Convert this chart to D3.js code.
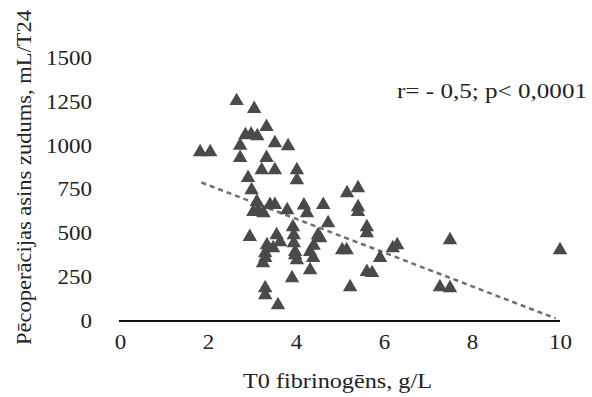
<!DOCTYPE html>
<html>
<head>
<meta charset="utf-8">
<script src="https://cdn.jsdelivr.net/npm/d3@7"></script>
<style>
  body { margin: 0; background: #fff; }
  text { font-family: "Liberation Serif", "Times New Roman", Times, serif; fill: #222; }
</style>
</head>
<body>
<script>
const WIDTH = 592;
const HEIGHT = 397;

// fibrinogen (g/L) and blood loss (mL/T24)
var fibX = [1.82, 2.05, 2.65, 3.05, 3.33, 2.85, 2.98, 3.12, 2.73, 3.52, 3.82, 2.73, 3.33, 3.22, 3.52,
    4.02, 4.02, 2.91, 2.99, 3.11, 3.14, 3.41, 3.52, 3.8, 3.26, 3.03, 4.18, 4.25, 4.62, 3.93,
    3.95, 3.95, 3.98, 4.02, 2.95, 3.56, 3.64, 3.34, 3.3, 3.25, 3.48, 4.32, 4.39, 4.55, 4.4,
    4.32, 4.73, 3.91, 3.3, 3.3, 3.59, 5.05, 5.15, 5.41, 5.16, 5.41, 5.41, 5.61, 5.61, 6.3,
    6.2, 5.91, 5.61, 5.73, 5.23, 7.5, 7.27, 7.5, 10.0, 3.3, 3.98, 4.5];
var bloodLoss = [964, 964, 1255, 1210, 1108, 1060, 1065, 1055, 1000, 1015, 998, 930, 930, 861, 861,
    861, 804, 816, 747, 680, 633, 662, 662, 633, 616, 622, 660, 616, 662, 536,
    490, 445, 394, 348, 480, 490, 450, 433, 388, 331, 416, 394, 360, 473, 430,
    290, 559, 245, 188, 148, 91, 405, 405, 758, 730, 650, 622, 536, 502, 433,
    416, 360, 280, 274, 194, 462, 194, 188, 405, 360, 376, 490];
var trendX = [1.85, 9.9];
var trendY = [790, 15];
var xTicks = [0, 2, 4, 6, 8, 10];
var yTicks = [0, 250, 500, 750, 1000, 1250, 1500];

var points = fibX.map(function (x, i) { return {x: x, y: bloodLoss[i]}; });
var trend = trendX.map(function (x, i) { return {x: x, y: trendY[i]}; });

var svg = d3.select('body').append('svg')
    .attr('width', WIDTH)
    .attr('height', HEIGHT);

var xScale = d3.scaleLinear().domain([0, 10]).range([120, 560]);
var yScale = d3.scaleLinear().domain([0, 1500]).range([321, 58]);

// x axis: plain line, labels only
var xAxis = d3.axisBottom(xScale).tickValues(xTicks).tickSize(0).tickPadding(14).tickFormat(d3.format('d'));
var gx = svg.append('g')
    .attr('transform', 'translate(0,' + yScale(0) + ')')
    .call(xAxis);
gx.attr('font-family', null);
gx.select('.domain').attr('stroke', '#111').attr('stroke-width', 2).attr('d', 'M119,0H560');
gx.selectAll('text').attr('font-size', 20).attr('fill', '#222').attr('transform', 'scale(1.15,1)');

var yAxis = d3.axisLeft(yScale).tickValues(yTicks).tickSize(0).tickPadding(0).tickFormat(d3.format('d'));
var gy = svg.append('g')
    .attr('transform', 'translate(92,0)')
    .call(yAxis);
gy.attr('font-family', null);
gy.select('.domain').remove();
gy.selectAll('text').attr('font-size', 20).attr('fill', '#222').attr('transform', 'scale(1.15,1)');

// trend line
var line = d3.line()
    .x(function (d) { return xScale(d.x); })
    .y(function (d) { return yScale(d.y); });
svg.append('path')
    .attr('d', line(trend))
    .attr('fill', 'none')
    .attr('stroke', '#6e6e6e')
    .attr('stroke-width', 2.5)
    .attr('stroke-dasharray', '5,4');

// triangles
var tri = d3.symbol().type(d3.symbolTriangle).size(90);
svg.append('g').selectAll('path')
    .data(points)
    .enter()
    .append('path')
    .attr('d', tri)
    .attr('transform', function (d) { return 'translate(' + xScale(d.x) + ',' + yScale(d.y) + ')'; })
    .attr('fill', '#4a4a4a');

svg.append('text')
    .attr('x', 397)
    .attr('y', 98)
    .attr('font-size', 20)
    .attr('textLength', 190)
    .attr('lengthAdjust', 'spacingAndGlyphs')
    .text('r= - 0,5; p< 0,0001');

svg.append('text')
    .attr('x', 243)
    .attr('y', 388)
    .attr('font-size', 21)
    .attr('textLength', 189)
    .attr('lengthAdjust', 'spacingAndGlyphs')
    .text('T0 fibrinogēns, g/L');

svg.append('text')
    .attr('transform', 'translate(31,345) rotate(-90)')
    .attr('font-size', 21)
    .attr('textLength', 335)
    .attr('lengthAdjust', 'spacingAndGlyphs')
    .text('Pēcoperācijas asins zudums, mL/T24');
</script>
</body>
</html>
